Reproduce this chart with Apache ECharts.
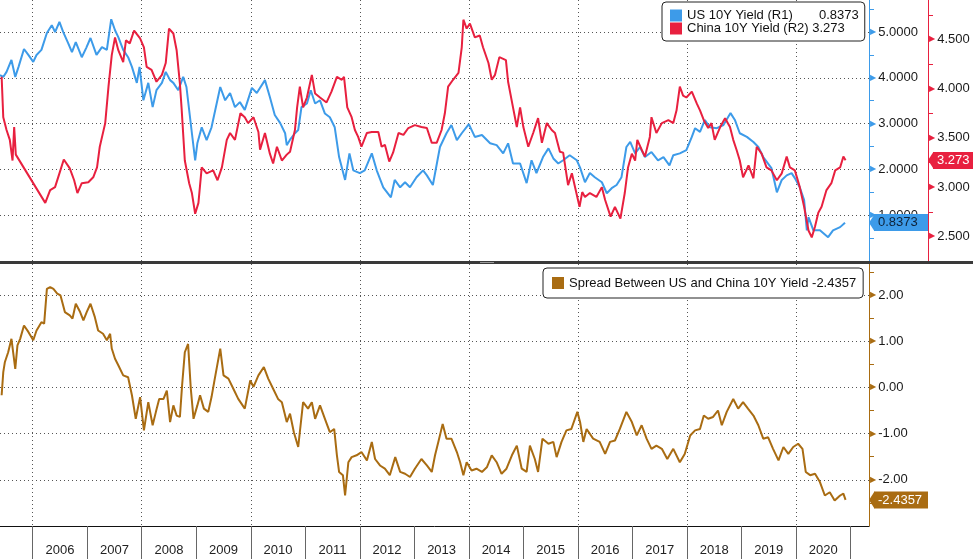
<!DOCTYPE html>
<html><head><meta charset="utf-8">
<script src="https://cdn.jsdelivr.net/npm/echarts@6/dist/echarts.min.js"></script>
<style>html,body{margin:0;padding:0;background:#fff}#c{width:973px;height:559px}</style>
</head><body><div id="c"></div>
<script>
// ---- tick labels / axis values ----
const yearTicks = [2006,2007,2008,2009,2010,2011,2012,2013,2014,2015,2016,2017,2018,2019,2020,2021];
const yearLabels = [2006,2007,2008,2009,2010,2011,2012,2013,2014,2015,2016,2017,2018,2019,2020];
const gridYears = [2006,2008,2010,2012,2014,2016,2018,2020];
const usTicks = [1,2,3,4,5];
const cnTicks = [2.5,3,3.5,4,4.5];
const spTicks = [-2,-1,0,1,2];

// ---- series (dates as decimal years) ----
const usDates = [2005.40,2005.46,2005.52,2005.61,2005.68,2005.74,2005.84,2005.92,2006.01,2006.07,2006.16,2006.26,2006.35,2006.41,2006.49,2006.56,2006.65,2006.72,2006.79,2006.90,2006.98,2007.06,2007.17,2007.27,2007.36,2007.44,2007.51,2007.57,2007.66,2007.75,2007.82,2007.91,2007.96,2008.03,2008.12,2008.20,2008.27,2008.37,2008.44,2008.52,2008.58,2008.67,2008.76,2008.82,2008.92,2008.98,2009.02,2009.10,2009.19,2009.28,2009.44,2009.53,2009.62,2009.71,2009.80,2009.89,2010.02,2010.11,2010.26,2010.35,2010.44,2010.54,2010.63,2010.66,2010.72,2010.81,2010.87,2010.93,2011.03,2011.10,2011.18,2011.27,2011.36,2011.45,2011.54,2011.62,2011.73,2011.81,2011.88,2012.00,2012.09,2012.22,2012.31,2012.43,2012.57,2012.64,2012.74,2012.83,2012.92,2013.04,2013.16,2013.23,2013.34,2013.47,2013.59,2013.68,2013.78,2013.87,2014.00,2014.11,2014.24,2014.39,2014.51,2014.63,2014.72,2014.81,2014.94,2015.06,2015.15,2015.24,2015.36,2015.46,2015.55,2015.64,2015.73,2015.85,2015.98,2016.04,2016.13,2016.22,2016.31,2016.44,2016.53,2016.62,2016.71,2016.80,2016.89,2016.96,2017.05,2017.14,2017.23,2017.35,2017.47,2017.57,2017.68,2017.75,2017.87,2017.99,2018.09,2018.15,2018.24,2018.33,2018.42,2018.55,2018.67,2018.80,2018.88,2018.97,2019.10,2019.22,2019.31,2019.40,2019.55,2019.65,2019.74,2019.83,2019.92,2019.98,2020.07,2020.15,2020.20,2020.23,2020.32,2020.44,2020.59,2020.68,2020.81,2020.90];
const usYield = [4.06,4.02,4.13,4.39,4.02,4.24,4.63,4.50,4.35,4.50,4.61,4.98,5.15,5.00,5.22,5.00,4.76,4.56,4.78,4.45,4.65,4.87,4.50,4.67,4.61,5.28,5.04,4.89,4.61,4.45,4.24,3.89,4.24,3.51,3.89,3.36,3.73,3.89,4.13,3.95,3.89,3.73,4.02,3.80,2.79,2.20,2.57,2.92,2.64,2.92,3.80,3.51,3.67,3.36,3.47,3.30,3.78,3.67,3.95,3.58,3.19,3.01,2.79,2.53,2.65,2.79,2.86,3.36,3.44,3.73,3.44,3.51,3.22,3.14,2.92,2.27,1.77,2.35,1.98,1.92,1.98,2.35,1.98,1.61,1.39,1.77,1.61,1.72,1.61,1.83,1.98,1.87,1.66,2.49,2.79,2.97,2.64,2.79,2.99,2.71,2.75,2.57,2.53,2.35,2.57,2.13,2.13,1.70,2.20,1.92,2.27,2.46,2.24,2.13,2.20,2.31,2.20,2.04,1.72,1.92,1.83,1.72,1.48,1.59,1.66,1.83,2.49,2.60,2.35,2.49,2.27,2.38,2.20,2.27,2.09,2.31,2.35,2.42,2.71,2.90,2.82,3.08,2.92,2.90,2.97,3.23,3.08,2.79,2.71,2.60,2.49,2.27,2.03,1.50,1.77,1.87,1.92,1.81,1.61,1.33,0.67,0.96,0.67,0.67,0.52,0.67,0.74,0.8373];

const cnDates = [2005.43,2005.46,2005.52,2005.58,2005.63,2005.66,2005.69,2006.23,2006.32,2006.41,2006.49,2006.57,2006.68,2006.76,2006.82,2006.90,2007.02,2007.11,2007.18,2007.23,2007.33,2007.39,2007.45,2007.51,2007.57,2007.66,2007.71,2007.78,2007.86,2007.97,2008.04,2008.09,2008.18,2008.27,2008.37,2008.44,2008.50,2008.58,2008.64,2008.70,2008.73,2008.79,2008.87,2008.92,2008.98,2009.04,2009.10,2009.19,2009.31,2009.39,2009.47,2009.56,2009.62,2009.71,2009.81,2009.89,2009.95,2010.05,2010.14,2010.17,2010.26,2010.35,2010.41,2010.48,2010.57,2010.66,2010.72,2010.81,2010.85,2010.90,2010.96,2011.03,2011.12,2011.18,2011.27,2011.39,2011.48,2011.58,2011.67,2011.71,2011.77,2011.85,2011.91,2011.97,2012.03,2012.13,2012.22,2012.34,2012.40,2012.46,2012.54,2012.61,2012.71,2012.80,2012.89,2013.01,2013.13,2013.23,2013.32,2013.41,2013.50,2013.56,2013.62,2013.71,2013.81,2013.87,2013.90,2013.96,2014.02,2014.11,2014.20,2014.26,2014.36,2014.42,2014.48,2014.56,2014.68,2014.72,2014.81,2014.88,2014.94,2015.00,2015.09,2015.18,2015.27,2015.34,2015.43,2015.52,2015.58,2015.67,2015.73,2015.82,2015.89,2015.96,2016.03,2016.08,2016.13,2016.22,2016.34,2016.44,2016.50,2016.60,2016.68,2016.78,2016.86,2016.92,2016.99,2017.05,2017.09,2017.17,2017.23,2017.32,2017.35,2017.44,2017.54,2017.66,2017.75,2017.81,2017.87,2017.93,2017.99,2018.09,2018.18,2018.24,2018.31,2018.39,2018.45,2018.51,2018.61,2018.70,2018.79,2018.85,2018.91,2018.97,2019.03,2019.13,2019.22,2019.28,2019.37,2019.46,2019.55,2019.65,2019.74,2019.83,2019.89,2019.98,2020.07,2020.15,2020.23,2020.29,2020.35,2020.41,2020.47,2020.56,2020.65,2020.72,2020.81,2020.87,2020.91];
const cnYield = [4.12,3.71,3.58,3.48,3.27,3.61,3.33,2.84,2.97,3.00,3.14,3.28,3.19,3.07,2.94,3.04,3.05,3.10,3.20,3.41,3.65,4.02,4.34,4.52,4.39,4.27,4.49,4.46,4.59,4.51,4.42,4.22,4.19,4.07,4.14,4.26,4.61,4.56,4.39,4.05,3.81,3.27,3.04,2.94,2.73,2.84,3.20,3.14,3.17,3.07,3.20,3.48,3.55,3.48,3.75,3.71,3.65,3.71,3.56,3.38,3.55,3.34,3.24,3.41,3.27,3.33,3.36,3.58,3.81,4.02,3.81,3.91,4.14,3.95,3.91,3.86,3.97,4.12,4.09,4.12,3.81,3.71,3.58,3.51,3.41,3.55,3.56,3.56,3.41,3.43,3.26,3.35,3.55,3.53,3.60,3.63,3.61,3.60,3.45,3.45,3.58,3.75,4.02,4.09,4.16,4.42,4.70,4.61,4.66,4.52,4.54,4.42,4.26,4.09,4.14,4.32,4.29,4.07,3.81,3.61,3.81,3.61,3.41,3.55,3.70,3.45,3.65,3.58,3.55,3.36,3.35,3.02,3.14,2.97,2.80,2.95,2.90,2.94,2.90,3.00,2.87,2.70,2.80,2.68,2.94,3.20,3.34,3.27,3.48,3.38,3.31,3.51,3.71,3.55,3.65,3.68,3.65,3.78,4.02,3.93,3.91,3.97,3.85,3.78,3.68,3.60,3.65,3.48,3.61,3.70,3.61,3.48,3.38,3.27,3.10,3.22,3.09,3.41,3.34,3.20,3.17,3.07,3.14,3.31,3.20,3.17,3.00,2.80,2.56,2.49,2.60,2.74,2.80,2.97,3.04,3.17,3.20,3.31,3.273];

const spDates = [2005.43,2005.46,2005.49,2005.55,2005.61,2005.68,2005.72,2005.77,2005.84,2005.92,2006.01,2006.07,2006.16,2006.21,2006.26,2006.32,2006.38,2006.45,2006.51,2006.59,2006.68,2006.73,2006.79,2006.87,2006.93,2006.99,2007.06,2007.14,2007.20,2007.29,2007.36,2007.42,2007.45,2007.51,2007.57,2007.66,2007.75,2007.82,2007.89,2007.97,2008.04,2008.12,2008.20,2008.26,2008.32,2008.40,2008.46,2008.52,2008.58,2008.64,2008.70,2008.74,2008.79,2008.85,2008.90,2008.95,2009.02,2009.07,2009.14,2009.22,2009.28,2009.34,2009.44,2009.50,2009.59,2009.68,2009.77,2009.89,2009.99,2010.05,2010.14,2010.24,2010.32,2010.41,2010.50,2010.57,2010.66,2010.72,2010.79,2010.87,2010.96,2011.05,2011.12,2011.18,2011.27,2011.36,2011.45,2011.53,2011.58,2011.62,2011.69,2011.73,2011.79,2011.85,2011.94,2012.03,2012.13,2012.22,2012.28,2012.37,2012.46,2012.55,2012.65,2012.74,2012.83,2012.92,2013.01,2013.13,2013.23,2013.32,2013.38,2013.44,2013.52,2013.59,2013.68,2013.78,2013.84,2013.90,2013.96,2014.05,2014.14,2014.24,2014.33,2014.42,2014.51,2014.60,2014.69,2014.79,2014.88,2014.97,2015.06,2015.12,2015.21,2015.27,2015.35,2015.46,2015.55,2015.61,2015.70,2015.79,2015.88,2015.99,2016.04,2016.10,2016.16,2016.28,2016.40,2016.50,2016.59,2016.68,2016.77,2016.89,2016.99,2017.08,2017.17,2017.26,2017.35,2017.44,2017.54,2017.64,2017.75,2017.87,2017.96,2018.06,2018.15,2018.24,2018.31,2018.39,2018.48,2018.57,2018.64,2018.73,2018.85,2018.94,2019.03,2019.12,2019.22,2019.31,2019.40,2019.49,2019.58,2019.68,2019.77,2019.86,2019.95,2020.04,2020.12,2020.18,2020.26,2020.35,2020.44,2020.53,2020.62,2020.71,2020.81,2020.87,2020.91];
const spread = [-0.17,0.33,0.55,0.76,1.05,0.40,0.91,1.05,1.34,1.20,1.02,1.23,1.41,1.38,2.13,2.17,2.13,2.03,1.99,1.63,1.56,1.49,1.81,1.63,1.45,1.63,1.81,1.52,1.23,1.16,1.02,1.16,0.84,0.62,0.48,0.26,0.22,-0.17,-0.68,-0.21,-0.93,-0.32,-0.82,-0.53,-0.25,-0.25,-0.07,-0.75,-0.39,-0.61,-0.64,0.04,0.76,0.94,-0.03,-0.68,-0.39,-0.17,-0.46,-0.53,-0.21,0.19,0.84,0.26,0.19,-0.03,-0.25,-0.46,0.15,0.01,0.26,0.44,0.19,-0.03,-0.25,-0.32,-0.75,-0.57,-0.97,-1.29,-0.32,-0.46,-0.32,-0.68,-0.39,-0.68,-0.97,-0.90,-1.47,-1.83,-1.90,-2.34,-1.62,-1.51,-1.47,-1.40,-1.58,-1.18,-1.55,-1.69,-1.76,-1.90,-1.51,-1.83,-1.87,-1.94,-1.76,-1.55,-1.69,-1.83,-1.47,-1.18,-0.79,-1.11,-1.11,-1.40,-1.62,-1.90,-1.62,-1.80,-1.76,-1.83,-1.73,-1.47,-1.62,-1.87,-1.76,-1.47,-1.26,-1.76,-1.83,-1.26,-1.55,-1.83,-1.11,-1.22,-1.18,-1.51,-1.18,-0.93,-0.90,-0.53,-0.75,-1.18,-0.90,-1.11,-1.18,-1.44,-1.18,-1.15,-0.90,-0.53,-0.75,-1.04,-0.82,-1.11,-1.33,-1.26,-1.33,-1.55,-1.33,-1.62,-1.44,-1.04,-0.93,-0.90,-0.61,-0.68,-0.64,-0.50,-0.82,-0.53,-0.25,-0.46,-0.32,-0.46,-0.61,-0.82,-1.11,-1.08,-1.33,-1.58,-1.29,-1.44,-1.29,-1.22,-1.33,-1.83,-1.90,-1.87,-2.05,-2.34,-2.27,-2.45,-2.34,-2.30,-2.4357];

const US = 'US 10Y Yield (R1)';
const CN = 'China 10Y Yield (R2)';
const SP = 'Spread Between US and China 10Y Yield';

// ---- styling ----
const FONT = '"Liberation Sans", Arial, sans-serif';
const BLUE = '#3d9be9', RED = '#e8203f', BROWN = '#a96c12';
const X_MIN = 2005.40, X_MAX = 2021.34;
const dotted = {color: '#555', width: 1, type: [1, 3]};
const pair = (xs, ys) => xs.map((x, i) => [x, ys[i]]);
const last = a => a[a.length - 1];
const usLast = last(usYield), cnLast = last(cnYield), spLast = last(spread);

function tagLine(val, txt, bg, fg, dist, w, pad) {
  return {
    symbol: 'none', silent: true, animation: false,
    lineStyle: {color: 'rgba(0,0,0,0)', width: 1},
    emphasis: {disabled: true},
    label: {show: true, position: 'end', distance: dist, formatter: () => txt,
      backgroundColor: bg, color: fg, fontFamily: FONT, fontSize: 13, lineHeight: 15,
      padding: pad, width: w, opacity: 1},
    data: [{yAxis: val}]
  };
}
function yLab(color, digits) {
  return {
    margin: 1,
    formatter: v => '{t|\u25B6}{v|' + v.toFixed(digits) + '}',
    rich: {
      t: {color: color, fontSize: 8, fontFamily: 'DejaVu Sans', padding: [0, 2, 0, 0]},
      v: {color: '#1a1a1a', fontSize: 13, fontFamily: FONT}
    }
  };
}

const chart = echarts.init(document.getElementById('c'));
chart.setOption({
  animation: false,
  backgroundColor: '#fff',
  textStyle: {fontFamily: FONT},
  grid: [
    {left: 0, top: 0, width: 869, height: 261},
    {left: 0, top: 264, width: 869, height: 262}
  ],
  xAxis: [
    {gridIndex: 0, type: 'value', min: X_MIN, max: X_MAX, position: 'bottom',
      axisLine: {show: false, onZero: false}, axisLabel: {show: false},
      axisTick: {show: false, customValues: gridYears},
      splitLine: {show: true, lineStyle: dotted}},
    {gridIndex: 1, type: 'value', min: X_MIN, max: X_MAX, position: 'top',
      axisLine: {show: false, onZero: false}, axisLabel: {show: false},
      axisTick: {show: false, customValues: gridYears},
      splitLine: {show: true, lineStyle: dotted}},
    {gridIndex: 1, type: 'value', min: X_MIN, max: X_MAX, position: 'bottom',
      axisLine: {show: true, onZero: false, lineStyle: {color: '#111', width: 1}},
      axisTick: {show: true, customValues: yearTicks, length: 33, lineStyle: {color: '#666'}},
      axisLabel: {customValues: yearLabels.map(y => y + 0.5), formatter: v => String(Math.floor(v)),
        margin: 18, color: '#222', fontSize: 13, fontFamily: FONT},
      splitLine: {show: false}}
  ],
  yAxis: [
    {gridIndex: 0, type: 'value', position: 'right', min: 0, max: 5.70, interval: 1,
      axisLine: {show: true, onZero: false, lineStyle: {color: BLUE}},
      axisTick: {show: false, customValues: usTicks},
      minorTick: {show: true, splitNumber: 2, length: 5, lineStyle: {color: BLUE}},
      axisLabel: Object.assign({customValues: usTicks}, yLab(BLUE, 4)),
      splitLine: {show: true, lineStyle: dotted}},
    {gridIndex: 0, type: 'value', position: 'right', offset: 59, min: 2.25, max: 4.90, splitNumber: 5,
      axisLine: {show: true, onZero: false, lineStyle: {color: RED}},
      axisTick: {show: false, customValues: cnTicks},
      minorTick: {show: true, splitNumber: 2, length: 5, lineStyle: {color: RED}},
      axisLabel: Object.assign({customValues: cnTicks}, yLab(RED, 3)),
      splitLine: {show: false}},
    {gridIndex: 1, type: 'value', position: 'right', min: -3.0, max: 2.67, splitNumber: 5,
      axisLine: {show: true, onZero: false, lineStyle: {color: BROWN}},
      axisTick: {show: false, customValues: spTicks},
      minorTick: {show: true, splitNumber: 2, length: 5, lineStyle: {color: BROWN}},
      axisLabel: Object.assign({customValues: spTicks}, yLab(BROWN, 2)),
      splitLine: {show: true, lineStyle: dotted}}
  ],
  legend: [
    {data: [US, CN], orient: 'vertical', left: 662, top: 2,
      backgroundColor: '#fff', borderColor: '#222', borderWidth: 1, borderRadius: 4,
      padding: [7, 6, 6, 8], itemGap: 0, itemWidth: 12, itemHeight: 12, icon: 'rect',
      selectedMode: false,
      formatter: n => n === US ? '{a|' + n + '}{v|' + usLast.toFixed(4) + '}'
                               : '{b|' + n + '}{v| ' + cnLast.toFixed(3) + '}',
      textStyle: {fontFamily: FONT, fontSize: 13, color: '#111',
        rich: {a: {width: 132, fontSize: 13, lineHeight: 16, fontFamily: FONT, color: '#111'},
               b: {fontSize: 13, lineHeight: 16, fontFamily: FONT, color: '#111'},
               v: {fontSize: 13, lineHeight: 16, fontFamily: FONT, color: '#111'}}}},
    {data: [SP], orient: 'vertical', left: 543, top: 268,
      backgroundColor: '#fff', borderColor: '#222', borderWidth: 1, borderRadius: 4,
      padding: [7, 7, 7, 9], itemWidth: 12, itemHeight: 12, icon: 'rect',
      selectedMode: false,
      formatter: n => n + ' ' + spLast.toFixed(4),
      textStyle: {fontFamily: FONT, fontSize: 13, color: '#111', lineHeight: 16}}
  ],
  graphic: [
    {id: 'sep', type: 'rect', left: 0, top: 261, z: 100, shape: {width: 973, height: 3}, style: {fill: '#3a3a3a'}},
    {id: 'sepHandle', type: 'rect', left: 480, top: 262, z: 101, shape: {width: 14, height: 1}, style: {fill: '#9a9a9a'}}
  ],
  series: [
    {name: US, type: 'line', xAxisIndex: 0, yAxisIndex: 0, data: pair(usDates, usYield),
      symbol: 'none', lineStyle: {color: BLUE, width: 2}, itemStyle: {color: BLUE},
      markLine: tagLine(usLast, usLast.toFixed(4), BLUE, '#0e2238', 5, 46, [1, 4, 1, 4])},
    {name: CN, type: 'line', xAxisIndex: 0, yAxisIndex: 1, data: pair(cnDates, cnYield),
      symbol: 'none', lineStyle: {color: RED, width: 2}, itemStyle: {color: RED},
      markLine: tagLine(cnLast, cnLast.toFixed(3), RED, '#fff', 64, 33, [1, 3, 1, 4])},
    {name: SP, type: 'line', xAxisIndex: 2, yAxisIndex: 2, data: pair(spDates, spread),
      symbol: 'none', lineStyle: {color: BROWN, width: 2}, itemStyle: {color: BROWN},
      markLine: tagLine(spLast, spLast.toFixed(4), BROWN, '#fff', 5, 47, [1, 3, 1, 4])}
  ]
});

// small left-pointing arrow heads for the value tags, positioned through the axes' scales
function arrow(id, yAxisIndex, val, tipX, color) {
  const y = chart.convertToPixel({yAxisIndex: yAxisIndex}, val);
  return {id: id, type: 'polygon', z: 110, silent: true,
    shape: {points: [[tipX, y], [tipX + 5.5, y - 8.5], [tipX + 5.5, y + 8.5]]},
    style: {fill: color}};
}
chart.setOption({graphic: [
  arrow('aUS', 0, usLast, 869, BLUE),
  arrow('aCN', 1, cnLast, 928, RED),
  arrow('aSP', 2, spLast, 869, BROWN)
]});
</script>
</body></html>
